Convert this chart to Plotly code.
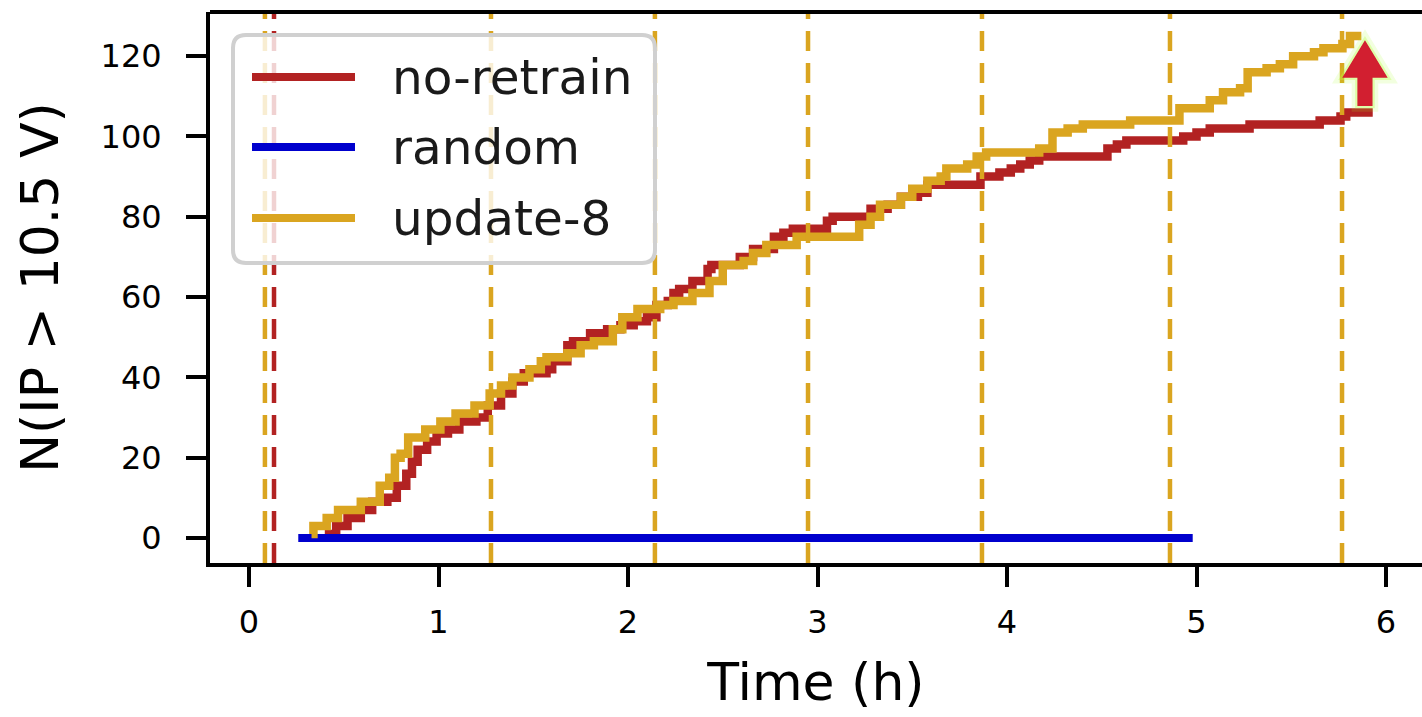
import plotly.graph_objects as go

# ---------------- data ----------------
noretrain_t = [0.40, 0.46, 0.52, 0.59, 0.65, 0.73, 0.78, 0.83, 0.86, 0.89, 0.94, 0.99, 1.05, 1.11,
               1.20, 1.26, 1.33, 1.39, 1.45, 1.57, 1.60, 1.68, 1.71, 1.80, 1.89, 1.96, 2.03, 2.10,
               2.15, 2.21, 2.24, 2.27, 2.34, 2.42, 2.44, 2.59, 2.66, 2.77, 2.82, 2.87, 3.05, 3.08,
               3.28, 3.37, 3.44, 3.53, 3.58, 3.86, 3.96, 4.02, 4.07, 4.12, 4.17, 4.53, 4.58, 4.63,
               4.93, 5.00, 5.07, 5.28, 5.65, 5.76, 5.79, 5.93]
noretrain_n = [1, 3, 5, 7, 9, 10, 13, 16, 19, 22, 24, 26, 27, 29,
               30, 33, 36, 39, 41, 42, 44, 48, 49, 51, 52, 53, 54, 55,
               58, 59, 61, 62, 64, 67, 68, 70, 72, 75, 76, 77, 79, 80,
               82, 83, 85, 86, 88, 90, 91, 92, 93, 94, 95, 97, 98, 99,
               100, 101, 102, 103, 104, 105, 106, 106]

random_t = [0.26, 4.98]
random_n = [0, 0]

update8_t = [0.33, 0.34, 0.41, 0.47, 0.59, 0.69, 0.74, 0.77, 0.80, 0.84, 0.93, 1.01, 1.09, 1.19,
             1.27, 1.33, 1.39, 1.48, 1.54, 1.57, 1.68, 1.75, 1.82, 1.92, 1.97, 2.05, 2.17, 2.24,
             2.34, 2.43, 2.50, 2.61, 2.66, 2.73, 2.89, 3.22, 3.28, 3.33, 3.44, 3.50, 3.58, 3.65,
             3.68, 3.79, 3.84, 3.89, 4.17, 4.24, 4.32, 4.40, 4.65, 4.91, 5.07, 5.14, 5.23, 5.27,
             5.37, 5.44, 5.51, 5.62, 5.67, 5.77, 5.81, 5.87]
update8_n = [1, 3, 5, 7, 9, 13, 15, 20, 21, 25, 27, 29, 31, 33,
             36, 38, 40, 42, 44, 45, 46, 48, 49, 52, 55, 57, 58, 59,
             61, 64, 68, 69, 71, 73, 75, 78, 80, 83, 85, 87, 89, 90,
             92, 93, 95, 96, 97, 101, 102, 103, 104, 107, 109, 111, 112, 116,
             117, 118, 120, 121, 122, 123, 125, 125]

retrain_goldenrod = [0.084, 1.277, 2.142, 2.950, 3.868, 4.860, 5.768]
retrain_red = [0.132]

series_names = ["no-retrain", "random", "update-8"]
x_ticks = [0, 1, 2, 3, 4, 5, 6]
y_ticks = [0, 20, 40, 60, 80, 100, 120]

RED = "#b22222"
BLUE = "#0000cd"
GOLD = "#daa520"
FONT = "DejaVu Sans"

fig = go.Figure()
fig.add_trace(go.Scatter(x=noretrain_t, y=noretrain_n, mode="lines", line=dict(color=RED, width=8.5, shape="hv"),
                         name=series_names[0], showlegend=False))
fig.add_trace(go.Scatter(x=random_t, y=random_n, mode="lines", line=dict(color=BLUE, width=8),
                         name=series_names[1], showlegend=False))
fig.add_trace(go.Scatter(x=update8_t, y=update8_n, mode="lines", line=dict(color=GOLD, width=8.5, shape="hv"),
                         name=series_names[2], showlegend=False))

for xv in retrain_goldenrod:
    fig.add_vline(x=xv, line=dict(color=GOLD, width=4.5, dash="20px,12px"), layer="above")
for xv in retrain_red:
    fig.add_vline(x=xv, line=dict(color=RED, width=4.5, dash="20px,12px"), layer="above")

# top spine
fig.add_shape(type="line", xref="paper", yref="paper", x0=0, x1=1, y0=1, y1=1,
              line=dict(color="black", width=4), layer="above")

# arrow marker (decoration)
arrow = [(5.889, 123.6), (6.002, 114.8), (5.925, 114.8), (5.925, 107.8),
         (5.853, 107.8), (5.853, 114.8), (5.776, 114.8)]
apath = "M " + " L ".join(f"{a},{b}" for a, b in arrow) + " Z"
fig.add_shape(type="path", path=apath, xref="x", yref="y", line=dict(color="rgba(170,255,40,0.15)", width=13),
              fillcolor="rgba(170,255,40,0.15)", layer="above")
fig.add_shape(type="path", path=apath, xref="x", yref="y", line=dict(color="rgba(185,255,70,0.35)", width=6),
              fillcolor="#d21f30", layer="above")
fig.add_shape(type="path", path=apath, xref="x", yref="y", line=dict(color="#d21f30", width=1.5),
              fillcolor="#d21f30", layer="above")

# manual legend (pixel -> paper conversion)
PL, PR, PT, PB = 210, 1422, 12, 563
def px(x):
    return (x - PL) / (PR - PL)
def py(y):
    return (PB - y) / (PB - PT)

x0, x1, y0, y1 = px(233), px(655), py(263), py(35)
rx, ry = 13 / (PR - PL), 13 / (PB - PT)
lpath = (f"M {x0+rx},{y1} L {x1-rx},{y1} Q {x1},{y1} {x1},{y1-ry} L {x1},{y0+ry} Q {x1},{y0} {x1-rx},{y0} "
         f"L {x0+rx},{y0} Q {x0},{y0} {x0},{y0+ry} L {x0},{y1-ry} Q {x0},{y1} {x0+rx},{y1} Z")
fig.add_shape(type="path", path=lpath, xref="paper", yref="paper",
              line=dict(color="#d0d0d0", width=4), fillcolor="rgba(255,255,255,0.8)", layer="above")
for name, col, yy in zip(series_names, [RED, BLUE, GOLD], [77, 147, 218]):
    fig.add_shape(type="line", xref="paper", yref="paper", x0=px(252), x1=px(355), y0=py(yy), y1=py(yy),
                  line=dict(color=col, width=8), layer="above")
    fig.add_annotation(x=px(390), y=py(yy), xref="paper", yref="paper", text=name, showarrow=False,
                       xanchor="left", yanchor="middle", font=dict(family=FONT, size=48.5, color="#1a1a1a"))

fig.update_xaxes(range=[-0.2058, 6.19], tickvals=x_ticks, ticktext=[str(v) for v in x_ticks],
                 ticks="outside", ticklen=20, tickwidth=4, tickcolor="black",
                 showline=True, linecolor="black", linewidth=4, showgrid=False, zeroline=False,
                 tickfont=dict(family=FONT, size=32, color="black"), ticklabelstandoff=8,
                 title=dict(text="Time (h)", font=dict(family=FONT, size=52, color="black"), standoff=24))
fig.update_yaxes(range=[-6.23, 131.0], tickvals=y_ticks, ticktext=[str(v) for v in y_ticks],
                 ticks="outside", ticklen=20, tickwidth=4, tickcolor="black",
                 showline=True, linecolor="black", linewidth=4, showgrid=False, zeroline=False,
                 tickfont=dict(family=FONT, size=32, color="black"), ticklabelstandoff=18,
                 title=dict(text="N(IP > 10.5 V)", font=dict(family=FONT, size=52, color="black"), standoff=26))

fig.update_layout(width=1422, height=717, margin=dict(l=210, r=0, t=12, b=154, autoexpand=False),
                  plot_bgcolor="white", paper_bgcolor="white", showlegend=False)

fig.write_html("out.html")
